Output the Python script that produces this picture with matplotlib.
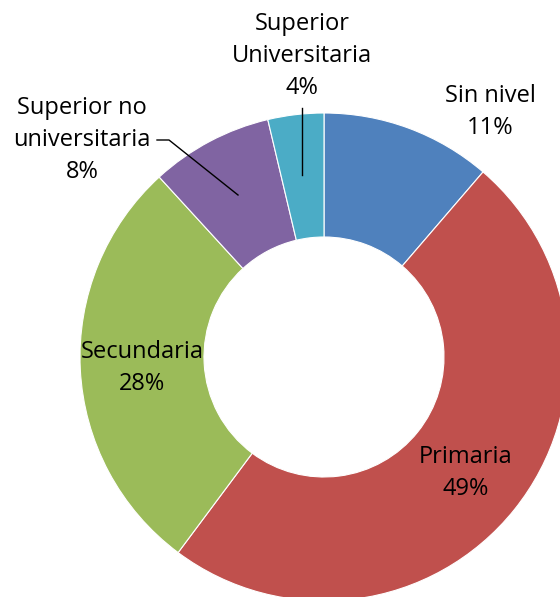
import matplotlib.pyplot as plt

# Nivel educativo (porcentaje), clockwise from 12 o'clock
categories = ["Sin nivel", "Primaria", "Secundaria",
              "Superior no\nuniversitaria", "Superior\nUniversitaria"]
values = [11.3, 48.9, 28.0, 8.1, 3.7]
pct_labels = ["11%", "49%", "28%", "8%", "4%"]
colors = ["#4F81BD", "#C0504D", "#9BBB59", "#8064A2", "#4BACC6"]

# label placement (pixel coords, y from top)
label_pos = [(490, 112), (466, 473), (142, 368), (82, 140), (302, 56)]

H = 597
fig = plt.figure(figsize=(5.6, 5.97), dpi=100)
ax = fig.add_axes([0, 0, 1, 1])

ax.pie(values, colors=colors, startangle=90, counterclock=False,
       center=(324, H - 357), radius=244,
       wedgeprops=dict(width=124, edgecolor="white", linewidth=0.8))

ax.set_xlim(0, 560)
ax.set_ylim(0, H)
ax.set_aspect("equal")
ax.axis("off")

for cat, pct, (x, y) in zip(categories, pct_labels, label_pos):
    ax.text(x, H - y, f"{cat}\n{pct}", ha="center", va="center",
            fontsize=17, family="Open Sans", linespacing=1.45, color="black")

# leader lines
ax.plot([157, 169, 238], [H - 140, H - 140, H - 195], color="black", lw=1)
ax.plot([302, 302], [H - 108, H - 175], color="black", lw=1)

fig.savefig("out.png", dpi=100)
